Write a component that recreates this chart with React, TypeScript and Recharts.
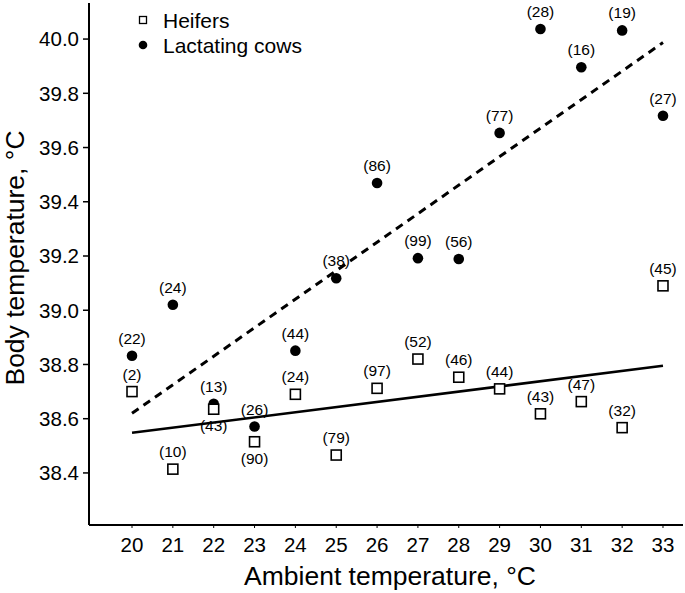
import { ScatterChart, Scatter, XAxis, YAxis, ReferenceLine, Legend, Label } from "recharts";

const ambientTemp = [20, 21, 22, 23, 24, 25, 26, 27, 28, 29, 30, 31, 32, 33];
const heiferTemp = [38.7, 38.414, 38.635, 38.515, 38.69, 38.466, 38.712, 38.82, 38.753, 38.71, 38.618, 38.663, 38.567, 39.09];
const heiferN = [2, 10, 43, 90, 24, 79, 97, 52, 46, 44, 43, 47, 32, 45];
const cowTemp = [38.832, 39.02, 38.655, 38.571, 38.851, 39.118, 39.469, 39.192, 39.189, 39.654, 40.037, 39.896, 40.032, 39.717];
const cowN = [22, 24, 13, 26, 44, 38, 86, 99, 56, 77, 28, 16, 19, 27];

// fitted lines, value at first and last ambient temperature
const heiferFit = [38.548, 38.795];
const cowFit = [38.62, 39.987];

const yTicks = [38.4, 38.6, 38.8, 39.0, 39.2, 39.4, 39.6, 39.8, 40.0];
const heiferLabelsBelow = [22, 23];

const FONT = "'Liberation Sans', Arial, sans-serif";

const heifers = ambientTemp.map((x, i) => ({ x, y: heiferTemp[i], n: heiferN[i] }));
const cows = ambientTemp.map((x, i) => ({ x, y: cowTemp[i], n: cowN[i] }));

const HeiferShape = (props: any) => {
  const { cx, cy, payload } = props;
  const below = heiferLabelsBelow.includes(payload.x);
  return (
    <g>
      <rect x={cx - 5} y={cy - 5} width={10} height={10} fill="#fff" stroke="#000" strokeWidth={1.6} />
      <text x={cx} y={below ? cy + 22 : cy - 12} textAnchor="middle" fontSize={15.5} fill="#000" fontFamily={FONT}>
        {`(${payload.n})`}
      </text>
    </g>
  );
};

const CowShape = (props: any) => {
  const { cx, cy, payload } = props;
  return (
    <g>
      <circle cx={cx} cy={cy} r={5.3} fill="#000" />
      <text x={cx} y={cy - 12} textAnchor="middle" fontSize={15.5} fill="#000" fontFamily={FONT}>
        {`(${payload.n})`}
      </text>
    </g>
  );
};

const LegendBox = () => (
  <div style={{ fontFamily: FONT, fontSize: 21, lineHeight: "25px", color: "#000" }}>
    <div style={{ display: "flex", alignItems: "center" }}>
      <svg width={12} height={25} style={{ marginRight: 14 }}>
        <rect x={2.5} y={8.5} width={7} height={7} fill="#fff" stroke="#000" strokeWidth={1.3} />
      </svg>
      <span>Heifers</span>
    </div>
    <div style={{ display: "flex", alignItems: "center" }}>
      <svg width={12} height={25} style={{ marginRight: 14 }}>
        <circle cx={6} cy={12} r={4.3} fill="#000" />
      </svg>
      <span>Lactating cows</span>
    </div>
  </div>
);

export default function App() {
  return (
    <div style={{ position: "absolute", left: 0, top: 0, background: "#fff" }}>
      <ScatterChart width={685} height={593} margin={{ top: 3, right: 2, bottom: 0, left: 0 }}>
        <XAxis
          type="number"
          dataKey="x"
          domain={[18.947, 33.49]}
          ticks={ambientTemp}
          allowDataOverflow
          height={68}
          axisLine={{ stroke: "#000", strokeWidth: 2 }}
          tickLine={{ stroke: "#000" }}
          tickSize={3}
          tickMargin={9}
          tick={{ fill: "#000", fontSize: 20.5, fontFamily: FONT }}
        >
          <Label
            content={(p: any) => {
              const vb = p.viewBox;
              return (
                <text x={vb.x + vb.width / 2 + 4} y={vb.y + 60} textAnchor="middle" fontSize={26.5} fill="#000" fontFamily={FONT}>
                  Ambient temperature, °C
                </text>
              );
            }}
          />
        </XAxis>
        <YAxis
          type="number"
          dataKey="y"
          domain={[38.208, 40.133]}
          ticks={yTicks}
          allowDataOverflow
          width={89}
          axisLine={{ stroke: "#000", strokeWidth: 2 }}
          tickLine={{ stroke: "#000", strokeWidth: 1.5 }}
          tickSize={6}
          tickMargin={4}
          tickFormatter={(v: number) => v.toFixed(1)}
          tick={{ fill: "#000", fontSize: 20.5, fontFamily: FONT }}
        >
          <Label
            content={() => (
              <text x={24} y={258} transform="rotate(-90 24 258)" textAnchor="middle" fontSize={26.5} fill="#000" fontFamily={FONT}>
                Body temperature, °C
              </text>
            )}
          />
        </YAxis>
        <ReferenceLine
          segment={[
            { x: ambientTemp[0], y: heiferFit[0] },
            { x: ambientTemp[ambientTemp.length - 1], y: heiferFit[1] },
          ]}
          stroke="#000"
          strokeWidth={2.5}
        />
        <ReferenceLine
          segment={[
            { x: ambientTemp[0], y: cowFit[0] },
            { x: ambientTemp[ambientTemp.length - 1], y: cowFit[1] },
          ]}
          stroke="#000"
          strokeWidth={3}
          strokeDasharray="8 6"
        />
        <Scatter name="Lactating cows" data={cows} shape={CowShape} isAnimationActive={false} />
        <Scatter name="Heifers" data={heifers} shape={HeiferShape} isAnimationActive={false} />
        <Legend
          layout="vertical"
          align="center"
          verticalAlign="middle"
          content={() => <LegendBox />}
          wrapperStyle={{ top: 8, left: 137, width: 220, height: 50 }}
        />
      </ScatterChart>
    </div>
  );
}
